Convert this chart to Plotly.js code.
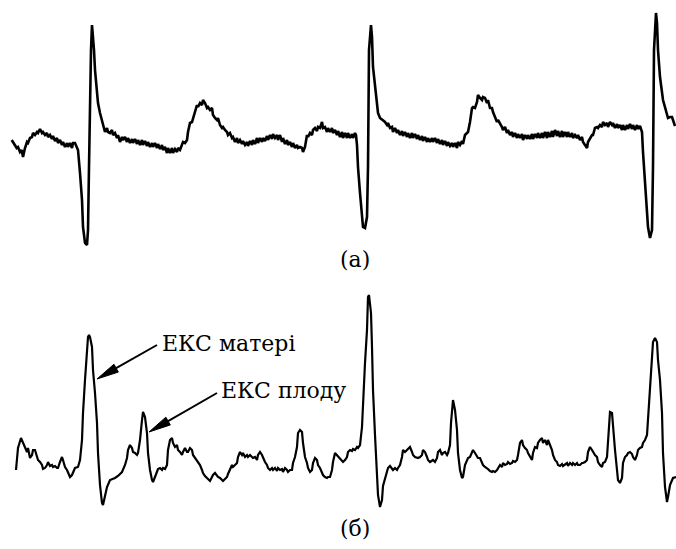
<!DOCTYPE html>
<html>
<head>
<meta charset="utf-8">
<script src="https://cdn.plot.ly/plotly-3.0.1.min.js"></script>
<style>
  html, body { margin: 0; padding: 0; background: #fff; }
  #chart { width: 676px; height: 549px; }
</style>
</head>
<body>
<div id="chart"></div>
<script>
// Trace (а): maternal abdominal ECG with mains ripple (sample position, level; level grows downward)
const ecgA_x = [11.7,15,16.7,18,20,21.7,23,25,27,28,30,32,33,35,37,38,40,42,43,45,47,48,50,52,53,55,57,58,60,62,63,65,67,68,70,72,73,75,77,
  78,80,82,83,85,87,88,89,90,91,92,93,94,95,97,98,100,103,105,
  107,108,110,112,113,115,117,118,120,122,123,125,127,128,130,132,133,135,137,138,140,142,143,145,147,148,150,152,153,155,157,158,160,162,163,165,167,168,170,172,173,175,177,178,180,182,183,185,187,188,190,192,193,195,197,198,200,202,203,205,207,208,210,212,213,215,217,218,220,222,223,
  225,227,228,230,232,233,235,237,238,240,242,243,245,247,248,250,252,253,255,257,258,260,262,263,265,267,268,270,272,273,275,277,278,280,282,283,285,287,288,290,292,293,295,297,298,300,302,303,305,307,308,310,312,313,315,317,318,320,322,323,325,327,328,330,332,333,335,337,338,340,342,343,345,347,348,350,352,353,355,356,
  357,358,360,362,363,365,367,368,368.5,369,371,372,373,375,377,378,380,383,385,387,388,390,392,393,395,397,398,400,402,403,405,407,408,410,412,413,415,417,418,420,422,423,425,427,428,430,432,433,435,437,438,440,442,443,445,447,448,450,452,453,455,457,458,460,462,463,465,467,468,470,472,473,475,477,478,480,482,483,485,487,488,490,492,493,495,497,498,500,502,503,505,507,508,510,512,513,515,517,518,520,522,523,525,527,528,530,532,533,535,537,538,540,542,543,545,547,548,550,552,553,555,557,558,560,562,563,565,567,568,570,572,573,575,577,578,580,582,583,585,587,588,590,592,593,595,597,598,600,602,603,605,607,608,610,612,613,615,617,618,620,622,623,625,627,628,630,632,633,635,637,638,640,642,
  643,645,647,648,650,652,653,653.5,654,656,657,658,660,663,667,668,670,672,673,675];
const ecgA_y = [140,145,148,147,152,150,157,148,142,143,138,137,133,135,132,133,129,133,132,135,133,137,135,139,136,141,138,143,140,145,142,147,143,147,143,148,143,143,147,
  150,173,200,227,243,245,230,167,100,50,25,35,50,70,90,103,113,123,132,
  128,132,133,130,135,133,138,135,142,137,140,137,142,138,143,139,143,139,144,140,145,140,145,141,146,142,147,143,147,143,148,144,149,145,150,147,153,148,153,148,153,149,152,148,150,145,142,143,140,132,123,122,118,110,105,107,103,105,100,103,108,107,110,108,115,118,120,118,125,128,127,
  130,132,135,133,138,137,142,138,143,140,144,141,145,142,146,141,145,140,144,138,143,138,142,138,141,136,140,135,139,134,138,135,140,135,142,138,144,140,145,142,147,143,148,145,148,147,148,152,147,135,137,133,135,130,128,131,127,128,122,128,127,132,128,132,128,133,130,135,131,137,132,138,133,138,133,138,134,138,133,135,
  145,167,193,213,227,228,217,167,100,50,25,37,67,85,98,113,118,120,122,125,123,128,127,132,128,133,130,135,131,136,132,137,133,138,133,138,134,139,135,140,136,141,137,142,138,142,138,142,138,143,139,144,140,145,141,146,142,146,143,147,143,148,142,145,141,144,135,133,132,122,108,107,108,102,95,98,100,97,98,103,100,108,108,112,118,122,120,123,127,130,127,133,130,135,132,137,133,138,134,138,134,140,135,139,135,139,134,139,134,138,133,138,133,138,132,138,132,137,131,137,130,136,131,137,131,137,132,137,132,137,133,138,135,138,135,140,137,142,145,148,142,138,135,135,128,127,128,125,127,122,125,123,127,122,125,123,128,124,128,125,130,125,130,125,129,124,129,125,130,125,129,126,132,
  152,180,207,227,238,230,167,100,50,13,23,50,77,100,113,118,117,117,120,126];

// Trace (б): filtered signal with maternal and fetal complexes
const ecgB_x = [16,18,21,23,25,27,28,30,32,33,35,37,38,40,42,43,45,47,48,50,52,53,55,57,58,60,62,63,65,67,68,70,72,73,75,78,
  80,82,83,85,87,88,89,90,92,93,95,97,98,100,102,103,105,107,110,113,115,118,122,125,127,128,130,132,133,135,137,138,
  140,142,143,145,147,148,150,152,153,155,157,158,160,162,163,165,167,168,170,172,173,175,177,178,180,182,183,185,187,188,190,192,193,195,197,198,200,202,203,205,207,208,210,212,213,215,217,218,220,222,223,
  225,227,228,230,232,233,235,237,238,240,242,243,245,247,248,250,252,253,255,257,258,260,262,263,265,267,268,270,272,273,275,277,278,280,282,283,285,287,288,290,292,293,295,297,298,300,302,303,305,307,308,310,312,313,315,317,318,320,322,323,325,327,328,330,332,333,335,337,338,340,342,343,345,347,348,350,352,353,355,357,358,360,
  362,363,365,367,368,369,371,372,373,375,377,378,380,382,383,385,387,388,390,392,393,395,397,398,400,402,403,405,407,408,410,412,413,415,417,418,420,422,423,425,427,428,430,432,433,435,437,438,440,442,443,445,447,448,
  450,451,452,453,455,457,458,460,462,463,465,467,468,470,472,473,475,477,478,480,482,483,485,487,488,490,492,493,495,497,498,500,502,503,505,507,508,510,512,513,515,517,518,520,522,523,525,527,528,530,532,533,535,537,538,540,542,543,545,547,548,550,552,553,555,557,558,560,562,563,565,567,568,570,572,573,575,577,578,580,582,583,585,587,588,590,592,593,595,597,598,600,602,603,605,607,
  608,610,612,613,615,617,618,620,622,623,625,627,628,630,632,633,635,637,638,640,642,643,645,647,648,650,652,653,655,657,658,660,662,663,665,667,668,670,673,676];
const ecgB_y = [470,448,438,443,448,452,448,458,455,450,450,457,460,462,465,469,468,465,462,466,465,467,466,468,468,462,457,460,467,470,473,477,475,472,468,467,
  460,440,413,380,350,337,335,337,347,370,393,423,453,485,503,505,496,487,480,479,478,476,472,465,458,450,445,448,452,453,455,453,
  440,420,412,417,433,453,470,480,482,477,470,469,468,470,468,469,465,450,440,438,443,447,445,450,452,455,452,448,452,452,448,450,455,458,460,462,465,470,473,476,478,480,481,477,475,473,476,477,478,480,481,
  479,477,474,470,465,467,465,463,457,452,455,453,457,455,457,455,457,458,457,460,455,452,455,458,462,465,468,470,468,470,468,471,468,470,469,472,468,470,472,470,470,463,457,447,433,430,432,443,457,463,468,472,470,463,458,460,465,468,472,475,477,478,477,477,470,462,453,455,457,458,460,462,460,457,452,450,451,449,450,447,448,445,
  427,400,363,330,297,295,313,347,390,435,470,495,507,500,486,478,472,468,466,469,470,468,470,468,465,457,450,452,450,448,447,452,455,457,458,458,457,455,450,452,457,460,462,460,460,462,458,452,450,455,453,452,455,453,
  445,423,407,400,410,430,453,470,478,477,465,460,458,457,453,450,453,457,458,458,462,465,467,468,469,471,472,471,472,470,468,465,467,463,465,464,462,464,463,461,462,460,455,443,440,445,448,450,453,457,460,453,447,448,443,440,438,443,440,445,440,445,450,455,460,462,465,466,464,466,464,463,466,463,465,463,465,463,465,465,463,463,462,460,452,447,450,452,455,457,462,465,467,463,462,457,
  437,412,413,427,450,470,480,483,478,463,457,455,453,452,454,457,460,455,450,448,447,443,440,435,420,385,353,342,338,342,360,380,413,453,487,502,497,485,478,477];

// Pointer labels: tip on the trace, tail at the label
const labels = ['ЕКС матері', 'ЕКС плоду'];
const labelX = [160, 219];
const labelY = [343, 390];
const arrowTipX = [97, 149];
const arrowTipY = [379, 432];
const arrowTailX = [157, 217];
const arrowTailY = [345, 393];

// Panel captions
const captions = ['(а)', '(б)'];
const captionX = [355, 355];
const captionY = [259, 528];

const serif = 'DejaVu Serif';

const traces = [
  { x: ecgA_x, y: ecgA_y, type: 'scatter', mode: 'lines',
    line: { color: '#000', width: 2.6, shape: 'linear' }, hoverinfo: 'skip' },
  { x: ecgB_x, y: ecgB_y, type: 'scatter', mode: 'lines',
    line: { color: '#000', width: 2.2, shape: 'linear' }, hoverinfo: 'skip' }
];

const shapes = [];
const HEAD_LEN = 22, HEAD_HALF = 4.5;
for (let i = 0; i < labels.length; i++) {
  const dx = arrowTipX[i] - arrowTailX[i];
  const dy = arrowTipY[i] - arrowTailY[i];
  const len = Math.hypot(dx, dy);
  const ux = dx / len, uy = dy / len;
  const bx = arrowTipX[i] - ux * HEAD_LEN, by = arrowTipY[i] - uy * HEAD_LEN;
  const px = -uy * HEAD_HALF, py = ux * HEAD_HALF;
  // shaft
  shapes.push({ type: 'line', xref: 'x', yref: 'y',
    x0: arrowTailX[i], y0: arrowTailY[i], x1: bx, y1: by,
    line: { color: '#000', width: 2 } });
  // filled head
  shapes.push({ type: 'path', xref: 'x', yref: 'y',
    path: `M${arrowTipX[i]},${arrowTipY[i]} L${bx + px},${by + py} L${bx - px},${by - py} Z`,
    fillcolor: '#000', line: { color: '#000', width: 1 } });
}

const annotations = [];
for (let i = 0; i < labels.length; i++) {
  annotations.push({ x: labelX[i], y: labelY[i], xref: 'x', yref: 'y',
    text: labels[i], showarrow: false, xanchor: 'left', yanchor: 'middle',
    font: { family: serif, size: 22, color: '#000' } });
}
for (let i = 0; i < captions.length; i++) {
  annotations.push({ x: captionX[i], y: captionY[i], xref: 'x', yref: 'y',
    text: captions[i], showarrow: false, xanchor: 'center', yanchor: 'middle',
    font: { family: serif, size: 22, color: '#000' } });
}

const layout = {
  width: 676, height: 549,
  margin: { l: 0, r: 0, t: 0, b: 0, pad: 0 },
  paper_bgcolor: '#fff', plot_bgcolor: '#fff',
  font: { family: serif },
  showlegend: false,
  xaxis: { range: [0, 676], visible: false, fixedrange: true },
  yaxis: { range: [549, 0], visible: false, fixedrange: true },
  shapes: shapes,
  annotations: annotations
};

Plotly.newPlot('chart', traces, layout, { staticPlot: true, displayModeBar: false });
</script>
</body>
</html>
